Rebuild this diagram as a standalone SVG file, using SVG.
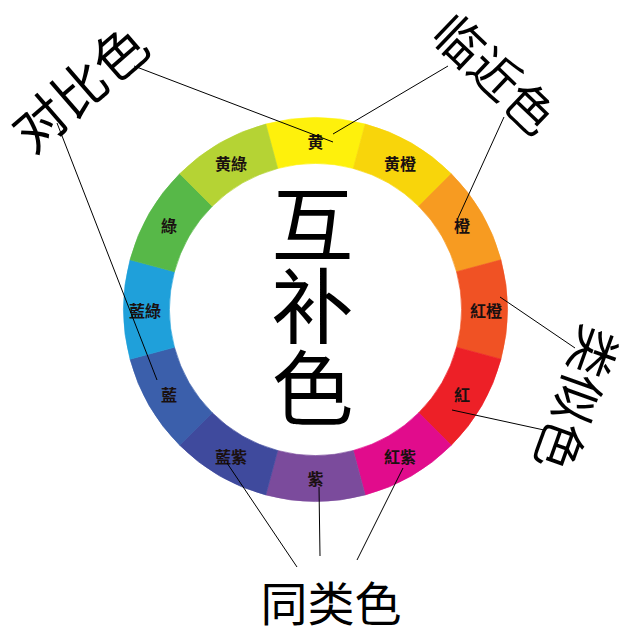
<svg xmlns="http://www.w3.org/2000/svg" xmlns:xlink="http://www.w3.org/1999/xlink" width="640" height="640" viewBox="0 0 640 640">
<style>
.seg-label{font-family:"Noto Sans CJK TC","Noto Sans CJK SC",sans-serif;font-size:16px;font-weight:bold;fill:#1a1010;text-anchor:middle;dominant-baseline:central}
.big{font-family:"Noto Sans CJK SC","Noto Sans CJK TC",sans-serif;fill:#000;text-anchor:middle;dominant-baseline:central}
.conn{stroke:#000;stroke-width:1;fill:none}
</style>
<defs>
<path id="seg" d="M265.81,124.04 A192,192 0 0 1 365.19,124.04 L353.29,168.47 A146,146 0 0 0 277.71,168.47 Z"/>
</defs>
<rect width="640" height="640" fill="#fff"/>
<g id="wheel">
<g id="s-huang"><use xlink:href="#seg" fill="#FEF10C" stroke="#FEF10C" stroke-width="0.6"/><text class="seg-label" x="315.5" y="141">黄</text></g>
<g id="s-huangcheng"><use xlink:href="#seg" transform="rotate(30 315.5 309.5)" fill="#F8D50B" stroke="#F8D50B" stroke-width="0.6"/><text class="seg-label" x="400" y="163">黄橙</text></g>
<g id="s-cheng"><use xlink:href="#seg" transform="rotate(60 315.5 309.5)" fill="#F79B21" stroke="#F79B21" stroke-width="0.6"/><text class="seg-label" x="462" y="225">橙</text></g>
<g id="s-hongcheng"><use xlink:href="#seg" transform="rotate(90 315.5 309.5)" fill="#F05224" stroke="#F05224" stroke-width="0.6"/><text class="seg-label" x="486" y="309.5">紅橙</text></g>
<g id="s-hong"><use xlink:href="#seg" transform="rotate(120 315.5 309.5)" fill="#ED2027" stroke="#ED2027" stroke-width="0.6"/><text class="seg-label" x="462" y="394">紅</text></g>
<g id="s-hongzi"><use xlink:href="#seg" transform="rotate(150 315.5 309.5)" fill="#E10C8C" stroke="#E10C8C" stroke-width="0.6"/><text class="seg-label" x="400" y="456">紅紫</text></g>
<g id="s-zi"><use xlink:href="#seg" transform="rotate(180 315.5 309.5)" fill="#7B4B9C" stroke="#7B4B9C" stroke-width="0.6"/><text class="seg-label" x="315.5" y="478">紫</text></g>
<g id="s-lanzi"><use xlink:href="#seg" transform="rotate(210 315.5 309.5)" fill="#3F4A9D" stroke="#3F4A9D" stroke-width="0.6"/><text class="seg-label" x="231" y="456">藍紫</text></g>
<g id="s-lan"><use xlink:href="#seg" transform="rotate(240 315.5 309.5)" fill="#3B5FAB" stroke="#3B5FAB" stroke-width="0.6"/><text class="seg-label" x="169" y="394">藍</text></g>
<g id="s-lanlv"><use xlink:href="#seg" transform="rotate(270 315.5 309.5)" fill="#1FA0DA" stroke="#1FA0DA" stroke-width="0.6"/><text class="seg-label" x="145" y="309.5">藍綠</text></g>
<g id="s-lv"><use xlink:href="#seg" transform="rotate(300 315.5 309.5)" fill="#57B848" stroke="#57B848" stroke-width="0.6"/><text class="seg-label" x="169" y="225">綠</text></g>
<g id="s-huanglv"><use xlink:href="#seg" transform="rotate(330 315.5 309.5)" fill="#B5D334" stroke="#B5D334" stroke-width="0.6"/><text class="seg-label" x="231" y="163">黄綠</text></g>
</g>
<g id="connectors">
<line class="conn" x1="134" y1="66" x2="333" y2="142"/>
<line class="conn" x1="448" y1="66" x2="333" y2="134"/>
<line class="conn" x1="57" y1="123" x2="157" y2="380"/>
<line class="conn" x1="504" y1="117" x2="458" y2="218"/>
<line class="conn" x1="500" y1="297" x2="575" y2="348"/>
<line class="conn" x1="452" y1="410" x2="544" y2="430"/>
<line class="conn" x1="227" y1="463" x2="297" y2="567"/>
<line class="conn" x1="319" y1="487" x2="320" y2="556"/>
<line class="conn" x1="403" y1="468" x2="357" y2="560"/>
</g>
<g id="center-label">
<text class="big" font-size="82" x="312.5" y="306" writing-mode="vertical-rl">互补色</text>
</g>
<g id="duibi"><text class="big" font-size="53" transform="translate(78 86) rotate(-41)">对比色</text></g>
<g id="linjin"><text class="big" font-size="49" transform="translate(497 72) rotate(43.7)">临近色</text></g>
<g id="leisi"><text class="big" font-size="50" transform="translate(580 400) rotate(109.7)">类似色</text></g>
<g id="tonglei"><text class="big" font-size="47" x="331" y="600">同类色</text></g>
</svg>
